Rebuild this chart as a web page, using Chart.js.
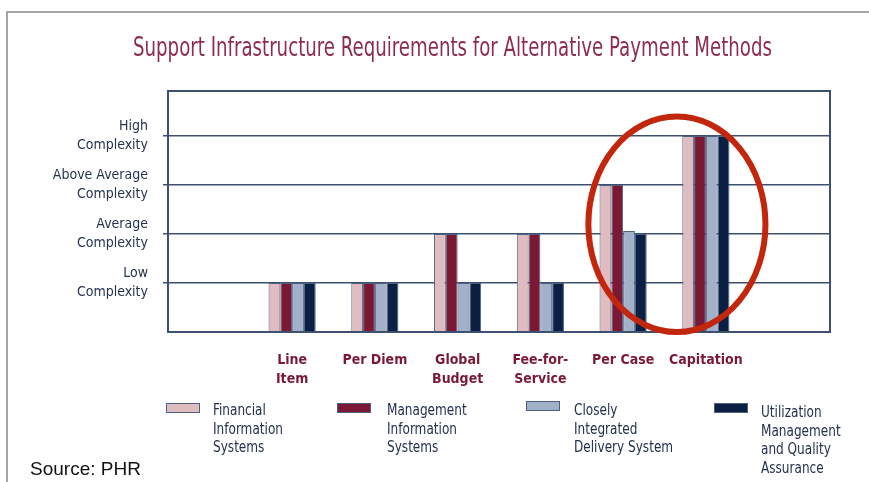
<!DOCTYPE html>
<html><head><meta charset="utf-8">
<script src="https://cdn.jsdelivr.net/npm/chart.js@4/dist/chart.umd.min.js"></script>
<style>
html,body{margin:0;padding:0;background:#fff;}
body{width:869px;height:482px;position:relative;overflow:hidden;font-family:"DejaVu Sans Condensed","Liberation Sans",sans-serif;}
#frame{position:absolute;left:6px;top:11px;width:880px;height:490px;border-top:2px solid #a6a6a6;border-left:2px solid #a6a6a6;}
#wrap{position:absolute;left:0;top:0;width:869px;height:482px;}
.sw{position:absolute;width:34px;height:10px;box-sizing:border-box;border:1px solid #4d6080;}
.lt{position:absolute;font-size:16px;line-height:18.6px;color:#23304d;white-space:nowrap;transform:scaleX(0.84);transform-origin:0 0;}
#src{position:absolute;left:30px;top:458px;font-family:"Liberation Sans",Arial,sans-serif;font-size:19px;line-height:22px;color:#111;}
</style></head><body>
<div id="frame"></div>
<div id="wrap"><canvas id="c" width="869" height="482"></canvas></div>
<div id="legend"></div>
<div id="src">Source: PHR</div>
<script>
// ---- data ----
const categories = [[""], ["Line","Item"], ["Per Diem"], ["Global","Budget"], ["Fee-for-","Service"], ["Per Case"], ["Capitation"], [""]];
const seriesNames = [["Financial","Information","Systems"], ["Management","Information","Systems"], ["Closely","Integrated","Delivery System"], ["Utilization","Management","and Quality","Assurance"]];
const financialInfo      = [null, 1, 1, 2, 2, 3,    4, null];
const managementInfo     = [null, 1, 1, 2, 2, 3,    4, null];
const integratedDelivery = [null, 1, 1, 1, 1, 2.06, 4, null];
const utilizationQA      = [null, 1, 1, 1, 1, 2,    4, null];
const yTickValues = [1, 2, 3, 4];
const yTickLabels = [["Low","Complexity"], ["Average","Complexity"], ["Above Average","Complexity"], ["High","Complexity"]];
const yMax = 4.92;
const titleText = "Support Infrastructure Requirements for Alternative Payment Methods";
const highlightCenter = [5.65, 2.2];   // [category index, value]
const highlightRadius = [1.07, 2.2];   // [category units, value units]

// ---- styles ----
const seriesColors = ["#dfbcc0", "#7b1934", "#a2b0c9", "#0b1f43"];
const gridColor = "#3c5172";
const narrow = '"DejaVu Sans Condensed","Liberation Sans",sans-serif';
const legendSwatch = [[166,403],[337,403],[526,401],[714,403]];
const legendText = [[213,401],[387,401],[574,401],[761,403]];

const allSeries = [financialInfo, managementInfo, integratedDelivery, utilizationQA];

// HTML legend
const lg = document.getElementById('legend');
seriesNames.forEach((name, i) => {
  const s = document.createElement('div');
  s.className = 'sw';
  s.style.left = legendSwatch[i][0] + 'px'; s.style.top = legendSwatch[i][1] + 'px';
  s.style.background = seriesColors[i];
  lg.appendChild(s);
  const t = document.createElement('div');
  t.className = 'lt';
  t.style.left = legendText[i][0] + 'px'; t.style.top = legendText[i][1] + 'px';
  t.innerHTML = name.join('<br>');
  lg.appendChild(t);
});

const extras = {
  id: 'extras',
  afterDraw(chart) {
    const ctx = chart.ctx, a = chart.chartArea;
    const xs = chart.scales.x, ys = chart.scales.y;
    ctx.save();
    // plot frame
    ctx.strokeStyle = gridColor; ctx.lineWidth = 2;
    ctx.strokeRect(a.left, a.top, a.right - a.left, a.bottom - a.top);
    // highlight ellipse
    const cx = xs.getPixelForValue(highlightCenter[0]);
    const cy = ys.getPixelForValue(highlightCenter[1]);
    const rx = Math.abs(xs.getPixelForValue(highlightCenter[0] + highlightRadius[0]) - cx);
    const ry = Math.abs(ys.getPixelForValue(highlightCenter[1] + highlightRadius[1]) - cy);
    ctx.beginPath();
    ctx.ellipse(cx, cy, rx, ry, 0, 0, Math.PI * 2);
    ctx.strokeStyle = "#c2260c"; ctx.lineWidth = 6;
    ctx.stroke();
    // title (condensed)
    ctx.fillStyle = "#8e2d4b";
    ctx.font = '27px ' + narrow;
    ctx.textAlign = 'center'; ctx.textBaseline = 'alphabetic';
    ctx.fillText(titleText, 452.5, 56, 639);
    ctx.restore();
  }
};

new Chart(document.getElementById('c'), {
  type: 'bar',
  data: {
    labels: categories,
    datasets: allSeries.map((d, i) => ({
      label: seriesNames[i].join(' '),
      data: d,
      backgroundColor: seriesColors[i],
      borderColor: "#4d6080",
      borderWidth: 1,
      categoryPercentage: 0.57,
      barPercentage: 1.0
    }))
  },
  options: {
    responsive: false,
    animation: false,
    devicePixelRatio: 1,
    layout: { padding: { top: 91, right: 39, left: 0, bottom: 0 } },
    plugins: { legend: { display: false }, title: { display: false }, tooltip: { enabled: false } },
    scales: {
      x: {
        grid: { display: false },
        border: { display: false },
        ticks: {
          autoSkip: false, maxRotation: 0, minRotation: 0,
          color: "#7b1934",
          font: { family: narrow, size: 14, weight: 'bold', lineHeight: 1.35 },
          padding: 11
        },
        afterFit(s) { s.height = 150; }
      },
      y: {
        min: 0, max: yMax,
        z: 1,
        grid: { color: gridColor, lineWidth: 1.5, tickLength: 5, drawTicks: true, tickColor: gridColor },
        border: { display: false },
        afterBuildTicks(s) { s.ticks = yTickValues.map(v => ({ value: v })); },
        ticks: {
          color: "#26344f",
          font: { family: narrow, size: 14, lineHeight: 1.35 },
          padding: 15,
          callback(v) { const i = yTickValues.indexOf(v); return i >= 0 ? yTickLabels[i] : ''; }
        },
        afterFit(s) { s.width = 168; }
      }
    }
  },
  plugins: [extras]
});
</script>
</body></html>
